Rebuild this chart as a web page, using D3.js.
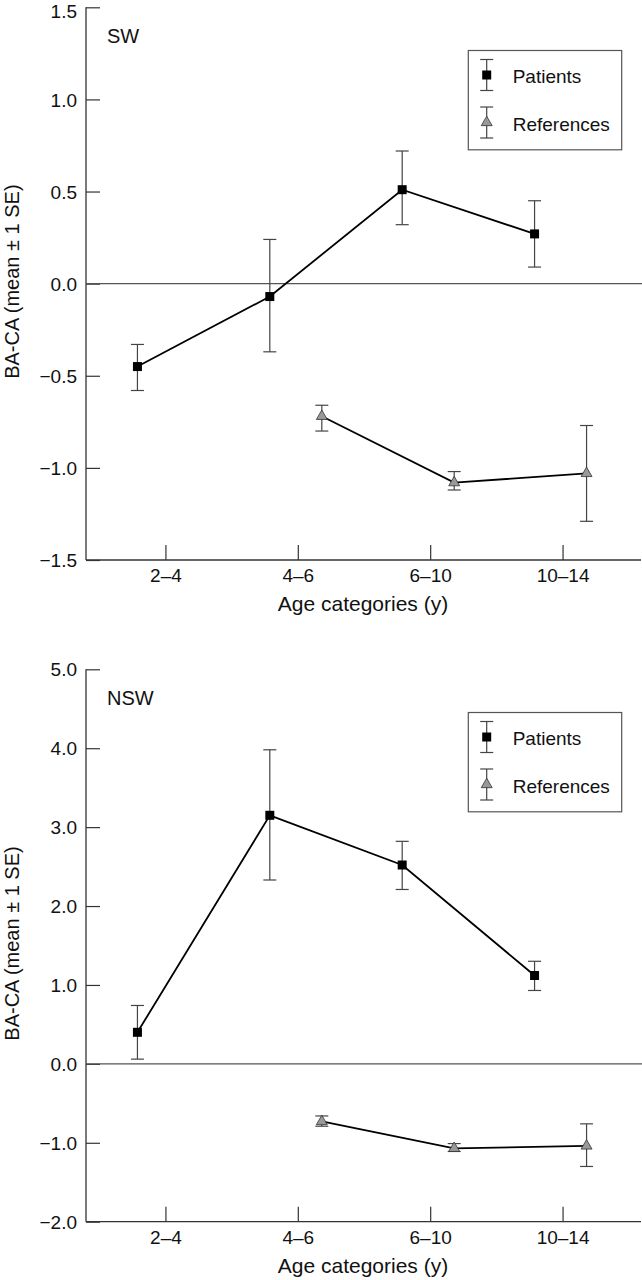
<!DOCTYPE html>
<html>
<head>
<meta charset="utf-8">
<script src="https://cdn.jsdelivr.net/npm/d3@7"></script>
<style>
  html, body { margin: 0; padding: 0; background: #fff; }
  svg { display: block; }
  text { font-family: "Liberation Sans", Arial, sans-serif; fill: #111; }
</style>
</head>
<body>
<svg id="chart" width="642" height="1280"></svg>
<script>
// ---------- data ----------
const categories = ["2–4", "4–6", "6–10", "10–14"];
const refCategories = ["4–6", "6–10", "10–14"];

// SW panel
const swPatientMean = [-0.45, -0.07, 0.51, 0.27];
const swPatientHigh = [-0.33, 0.24, 0.72, 0.45];
const swPatientLow  = [-0.58, -0.37, 0.32, 0.09];
const swRefMean = [-0.72, -1.08, -1.03];
const swRefHigh = [-0.66, -1.02, -0.77];
const swRefLow  = [-0.80, -1.12, -1.29];
const swTicks = [-1.5, -1.0, -0.5, 0.0, 0.5, 1.0, 1.5];

// NSW panel
const nswPatientMean = [0.40, 3.15, 2.52, 1.12];
const nswPatientHigh = [0.74, 3.98, 2.82, 1.30];
const nswPatientLow  = [0.06, 2.33, 2.21, 0.93];
const nswRefMean = [-0.73, -1.07, -1.04];
const nswRefHigh = [-0.66, -1.01, -0.76];
const nswRefLow  = [-0.79, -1.11, -1.30];
const nswTicks = [-2.0, -1.0, 0.0, 1.0, 2.0, 3.0, 4.0, 5.0];

const seriesNames = ["Patients", "References"];
const panelLabels = ["SW", "NSW"];
const xTitle = "Age categories (y)";
const yTitle = "BA-CA (mean ± 1 SE)";

// ---------- layout ----------
const svg = d3.select("#chart");
const axisX0 = 86, axisX1 = 641;
const x = d3.scalePoint().domain(categories).range([88, 640]).padding(0.585);
const patOffset = -28, refOffset = 24;
const fmt = d3.format(".1f");

const panels = [
  { label: panelLabels[0], domain: [-1.5, 1.5], range: [560, 7.3], ticks: swTicks,
    pat: { mean: swPatientMean, hi: swPatientHigh, lo: swPatientLow },
    ref: { mean: swRefMean, hi: swRefHigh, lo: swRefLow } },
  { label: panelLabels[1], domain: [-2, 5], range: [1221.7, 669.3], ticks: nswTicks,
    pat: { mean: nswPatientMean, hi: nswPatientHigh, lo: nswPatientLow },
    ref: { mean: nswRefMean, hi: nswRefHigh, lo: nswRefLow } }
];

const triangle = d3.symbol().type(d3.symbolTriangle).size(52);
const square = d3.symbol().type(d3.symbolSquare).size(81);

panels.forEach(p => {
  const y = d3.scaleLinear().domain(p.domain).range(p.range);
  const g = svg.append("g");
  const yTop = p.range[1], yBot = p.range[0];

  // y axis
  const ya = g.append("g").attr("transform", `translate(${axisX0},0)`)
    .call(d3.axisLeft(y).tickValues(p.ticks).tickFormat(fmt).tickSize(-14).tickPadding(9));
  ya.select(".domain").remove();
  ya.selectAll(".tick line").attr("stroke", "#333").attr("stroke-width", 1.2);
  ya.selectAll(".tick text").attr("font-size", 19).attr("fill", "#111")
    .attr("dy", d => (y(d) < 12 ? "0.53em" : "0.35em"))
    .attr("font-family", '"Liberation Sans", Arial, sans-serif');

  // x axis
  const xa = g.append("g").attr("transform", `translate(0,${yBot})`)
    .call(d3.axisBottom(x).tickSize(-15).tickPadding(9));
  xa.select(".domain").remove();
  xa.selectAll(".tick line").attr("stroke", "#333").attr("stroke-width", 1.2);
  xa.selectAll(".tick text").attr("font-size", 19).attr("fill", "#111")
    .attr("font-family", '"Liberation Sans", Arial, sans-serif');

  // axis lines
  g.append("line").attr("x1", axisX0).attr("x2", axisX0).attr("y1", yTop).attr("y2", yBot)
    .attr("stroke", "#333").attr("stroke-width", 1.3);
  g.append("line").attr("x1", axisX0).attr("x2", axisX1).attr("y1", yBot).attr("y2", yBot)
    .attr("stroke", "#333").attr("stroke-width", 1.3);

  // zero line
  g.append("line").attr("x1", axisX0).attr("x2", 642).attr("y1", y(0)).attr("y2", y(0))
    .attr("stroke", "#555").attr("stroke-width", 1.4);

  // axis titles
  g.append("text").attr("x", (axisX0 + 640) / 2).attr("y", yBot + 51)
    .attr("text-anchor", "middle").attr("font-size", 21).text(xTitle);
  g.append("text").attr("transform", `translate(19,${(yTop + yBot) / 2 - 2}) rotate(-90)`)
    .attr("text-anchor", "middle").attr("font-size", 20).text(yTitle);

  // panel label
  g.append("text").attr("x", 107).attr("y", yTop + 36).attr("font-size", 20).text(p.label);

  // series
  const patPts = categories.map((c, i) => ({ x: x(c) + patOffset, m: p.pat.mean[i], hi: p.pat.hi[i], lo: p.pat.lo[i] }));
  const refPts = refCategories.map((c, i) => ({ x: x(c) + refOffset, m: p.ref.mean[i], hi: p.ref.hi[i], lo: p.ref.lo[i] }));
  const line = d3.line().x(d => d.x).y(d => y(d.m));

  [patPts, refPts].forEach(pts => {
    g.append("path").datum(pts).attr("d", line).attr("fill", "none")
      .attr("stroke", "#000").attr("stroke-width", 1.8);
    const eb = g.append("g").attr("stroke", "#444").attr("stroke-width", 1.2);
    pts.forEach(d => {
      eb.append("line").attr("x1", d.x).attr("x2", d.x).attr("y1", y(d.hi)).attr("y2", y(d.lo));
      eb.append("line").attr("x1", d.x - 6.5).attr("x2", d.x + 6.5).attr("y1", y(d.hi)).attr("y2", y(d.hi));
      eb.append("line").attr("x1", d.x - 6.5).attr("x2", d.x + 6.5).attr("y1", y(d.lo)).attr("y2", y(d.lo));
    });
  });
  patPts.forEach(d => {
    g.append("path").attr("d", square).attr("transform", `translate(${d.x},${y(d.m)})`).attr("fill", "#000");
  });
  refPts.forEach(d => {
    g.append("path").attr("d", triangle).attr("transform", `translate(${d.x},${y(d.m)})`)
      .attr("fill", "#999").attr("stroke", "#333").attr("stroke-width", 0.8);
  });

  // legend
  const lx = 468.3, ly = yTop + 43.2, lw = 153.4, lh = 99.3;
  const lg = g.append("g");
  lg.append("rect").attr("x", lx).attr("y", ly).attr("width", lw).attr("height", lh)
    .attr("fill", "#fff").attr("stroke", "#555").attr("stroke-width", 1.2);
  const symX = 486.7;
  [{ name: seriesNames[0], dy: 24.5, sym: "sq" }, { name: seriesNames[1], dy: 72, sym: "tri" }].forEach(e => {
    const cy = ly + e.dy;
    const el = lg.append("g").attr("stroke", "#444").attr("stroke-width", 1.2);
    el.append("line").attr("x1", symX).attr("x2", symX).attr("y1", cy - 15.5).attr("y2", cy + 15.5);
    el.append("line").attr("x1", symX - 6.5).attr("x2", symX + 6.5).attr("y1", cy - 15.5).attr("y2", cy - 15.5);
    el.append("line").attr("x1", symX - 6.5).attr("x2", symX + 6.5).attr("y1", cy + 15.5).attr("y2", cy + 15.5);
    if (e.sym === "sq") {
      lg.append("path").attr("d", square).attr("transform", `translate(${symX},${cy})`).attr("fill", "#000");
    } else {
      lg.append("path").attr("d", triangle).attr("transform", `translate(${symX},${cy})`)
        .attr("fill", "#999").attr("stroke", "#333").attr("stroke-width", 0.8);
    }
    lg.append("text").attr("x", 512.7).attr("y", cy + 8).attr("font-size", 19).text(e.name);
  });
});
</script>
</body>
</html>
